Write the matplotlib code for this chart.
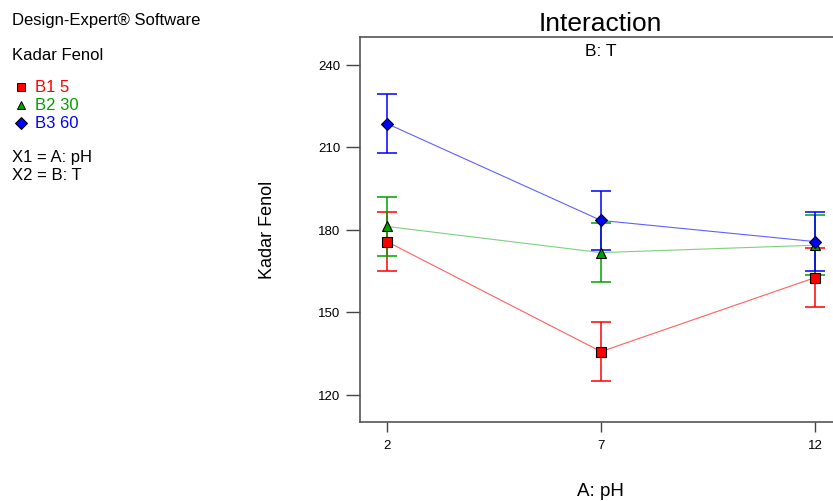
import numpy as np
import matplotlib.pyplot as plt

plt.rcParams['font.family'] = ['Liberation Sans', 'DejaVu Sans']

# data
ph = [2, 7, 12]
b1 = [175.6, 135.6, 162.5]  # B1 5
b2 = [181.1, 171.6, 174.3]  # B2 30
b3 = [218.5, 183.3, 175.6]  # B3 60
err = [10.8, 10.8, 10.8]
series_names = ['B1 5', 'B2 30', 'B3 60']
series_colors = ['#ff0000', '#00a000', '#0000ff']
line_colors = ['#ff6060', '#80d080', '#6060ff']
markers = ['s', '^', 'D']
msizes = [6.5, 7, 6]

fig = plt.figure(figsize=(8.33, 5.02), dpi=100)
ax = fig.add_axes([360 / 833, 79 / 502, 482 / 833, 385 / 502])

for ys, c, lc, m, ms in zip([b1, b2, b3], series_colors, line_colors, markers, msizes):
    ax.plot(ph, ys, color=lc, lw=0.8, zorder=2)
    ax.errorbar(ph, ys, yerr=err, fmt='none', ecolor=c, elinewidth=1.1,
                capsize=7.5, capthick=1.1, zorder=3)
    ax.plot(ph, ys, linestyle='none', marker=m, markersize=ms,
            markerfacecolor=c, markeredgecolor='black', markeredgewidth=0.8, zorder=4)

ax.set_xlim(1.37, 12.63)
ax.set_ylim(110, 250)
ax.set_xticks(ph)
ax.set_yticks([120, 150, 180, 210, 240])
ax.tick_params(direction='out', width=1, color='#444444', labelsize=9.5)
ax.tick_params(axis='y', length=10, pad=4)
ax.tick_params(axis='x', length=7.5, pad=5)
for s in ax.spines.values():
    s.set_color('#555555')
    s.set_linewidth(1.2)

ax.text(0.5, 0.985, 'B: T', transform=ax.transAxes, ha='center', va='top', fontsize=12.5)
fig.text(600 / 833, 1 - 24 / 502, 'Interaction', ha='center', va='center', fontsize=19)
fig.text(268 / 833, 1 - 230 / 502, 'Kadar Fenol', rotation=90, ha='center', va='center', fontsize=13)
fig.text(600 / 833, 1 - 492 / 502, 'A: pH', ha='center', va='center', fontsize=13.5)

# left side info panel
fs = 12
fig.text(12 / 833, 1 - 20 / 502, 'Design-Expert® Software', ha='left', va='center', fontsize=fs)
fig.text(12 / 833, 1 - 55 / 502, 'Kadar Fenol', ha='left', va='center', fontsize=fs)
for i, (name, c, m) in enumerate(zip(series_names, series_colors, markers)):
    yy = 1 - (88 + 18 * i) / 502
    fig.lines.append(plt.Line2D([21 / 833], [yy], marker=m, markersize=6, color=c,
                                markeredgecolor='black', markeredgewidth=0.7,
                                transform=fig.transFigure))
    fig.text(35 / 833, yy, name, color=c, ha='left', va='center', fontsize=fs)
fig.text(12 / 833, 1 - 158 / 502, 'X1 = A: pH', ha='left', va='center', fontsize=fs)
fig.text(12 / 833, 1 - 175 / 502, 'X2 = B: T', ha='left', va='center', fontsize=fs)

fig.savefig('out.png', dpi=100)
